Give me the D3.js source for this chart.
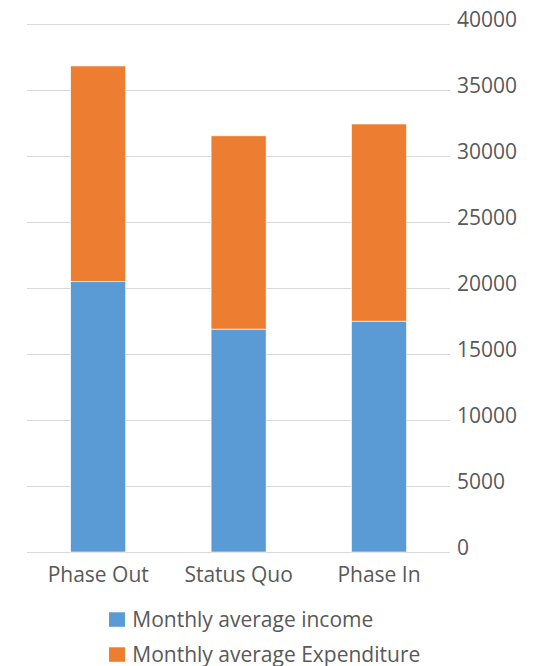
<!DOCTYPE html>
<html>
<head>
<meta charset="utf-8">
<script src="https://cdn.jsdelivr.net/npm/d3@7"></script>
<style>
  html, body { margin: 0; padding: 0; background: #fff; }
  svg { display: block; }
  text { font-family: "Open Sans", sans-serif; fill: #595959; }
</style>
</head>
<body>
<svg id="chart" width="539" height="666"></svg>
<script>
// Scenario categories and stacked series
const categories = ["Phase Out", "Status Quo", "Phase In"];
const incomeValues = [20500, 16900, 17500];
const expenditureValues = [16350, 14650, 14950];
const seriesNames = ["Monthly average income", "Monthly average Expenditure"];
const seriesColors = ["#5B9BD5", "#ED7D31"];
const yTicks = [0, 5000, 10000, 15000, 20000, 25000, 30000, 35000, 40000];

const svg = d3.select("#chart");

const plotLeft = 27, plotRight = 450;
const y = d3.scaleLinear().domain([0, 40000]).range([552, 24.4]);
const x = d3.scaleBand()
  .domain(categories)
  .range([28, 449.2])
  .paddingInner(0.608)
  .paddingOuter(0.304);

// Gridlines
svg.append("g")
  .selectAll("line")
  .data(yTicks)
  .join("line")
  .attr("x1", plotLeft)
  .attr("x2", plotRight)
  .attr("y1", d => Math.round(y(d)) + 0.5)
  .attr("y2", d => Math.round(y(d)) + 0.5)
  .attr("stroke", "#D9D9D9")
  .attr("stroke-width", 1);

// Right-side value axis
const yAxis = d3.axisRight(y).tickValues(yTicks).tickSize(0).tickPadding(0).tickFormat(d3.format("d"));
const yg = svg.append("g").attr("transform", `translate(457,0)`).call(yAxis);
yg.select(".domain").remove();
yg.selectAll("text")
  .attr("x", 0)
  .attr("dy", null)
  .attr("y", 2.4)
  .attr("text-anchor", "start")
  .style("font-family", "'Open Sans', sans-serif")
  .style("font-size", "21px")
  .attr("fill", "#595959");

// Stacked bars
const rows = categories.map((c, i) => ({ cat: c, income: incomeValues[i], expenditure: expenditureValues[i] }));
const stack = d3.stack().keys(["income", "expenditure"]);
const layers = stack(rows);

svg.append("g")
  .selectAll("g")
  .data(layers)
  .join("g")
  .attr("fill", (d, i) => seriesColors[i])
  .selectAll("rect")
  .data(d => d)
  .join("rect")
  .attr("x", d => x(d.data.cat))
  .attr("width", x.bandwidth())
  .attr("y", d => y(d[1]))
  .attr("height", d => y(d[0]) - y(d[1]))
  .attr("stroke", "#fff")
  .attr("stroke-width", 0.6);

// Category axis labels
const xAxis = d3.axisBottom(x).tickSize(0).tickPadding(0);
const xg = svg.append("g").attr("transform", `translate(0,0)`).call(xAxis);
xg.select(".domain").remove();
xg.selectAll("text")
  .attr("y", 581.7)
  .attr("dy", null)
  .style("font-family", "'Open Sans', sans-serif")
  .style("font-size", "21px")
  .attr("fill", "#595959");

// Legend
const legend = svg.append("g")
  .selectAll("g")
  .data(seriesNames)
  .join("g")
  .attr("transform", (d, i) => `translate(109,${612.3 + i * 35})`);
legend.append("rect")
  .attr("width", 16)
  .attr("height", 14.5)
  .attr("fill", (d, i) => seriesColors[i]);
legend.append("text")
  .attr("x", 23.3)
  .attr("y", 14.4)
  .style("font-size", "21px")
  .text(d => d);
</script>
</body>
</html>
